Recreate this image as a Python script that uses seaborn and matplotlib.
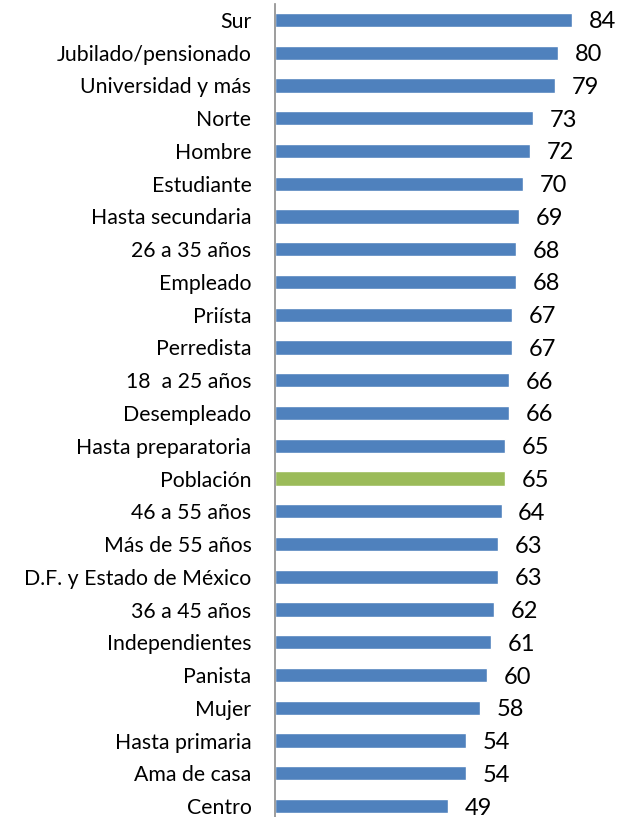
import matplotlib
matplotlib.use("Agg")
import matplotlib.pyplot as plt
import seaborn as sns
import pandas as pd

categories = ["Sur", "Jubilado/pensionado", "Universidad y más", "Norte", "Hombre",
              "Estudiante", "Hasta secundaria", "26 a 35 años", "Empleado", "Priísta",
              "Perredista", "18  a 25 años", "Desempleado", "Hasta preparatoria", "Población",
              "46 a 55 años", "Más de 55 años", "D.F. y Estado de México", "36 a 45 años",
              "Independientes", "Panista", "Mujer", "Hasta primaria", "Ama de casa", "Centro"]
values = [84, 80, 79, 73, 72, 70, 69, 68, 68, 67, 67, 66, 66, 65, 65,
          64, 63, 63, 62, 61, 60, 58, 54, 54, 49]
groups = ["total" if c == "Población" else "segmento" for c in categories]

df = pd.DataFrame({"categoria": categories, "valor": values, "grupo": groups})

sns.set_theme(style="white")
plt.rcParams["font.family"] = ["Lato", "DejaVu Sans"]

fig = plt.figure(figsize=(6.32, 8.17), dpi=100)
ax = fig.add_axes([275 / 632, 1 - 822.4 / 817, (632 - 275) / 632, (822.4 - 3.6) / 817])

sns.barplot(data=df, x="valor", y="categoria", hue="grupo",
            palette={"segmento": "#4F81BD", "total": "#9BBB59"},
            dodge=False, width=0.44, legend=False, ax=ax, saturation=1)

for cont in ax.containers:
    labels = ax.bar_label(cont, padding=12, fontsize=17, color="black")
    for t in labels:
        t.set_va("center_baseline")

ax.set_xlim(0, (632 - 275) / 3.54)
ax.set_xlabel("")
ax.set_ylabel("")
ax.set_xticks([])
ax.tick_params(axis="y", length=0, pad=17, labelsize=15.3, labelcolor="black")
for lab in ax.get_yticklabels():
    lab.set_va("center_baseline")
for s in ["top", "right", "bottom"]:
    ax.spines[s].set_visible(False)
ax.spines["left"].set_color("#8C8C8C")
ax.spines["left"].set_linewidth(1.2)

fig.savefig("out.png", dpi=100)
